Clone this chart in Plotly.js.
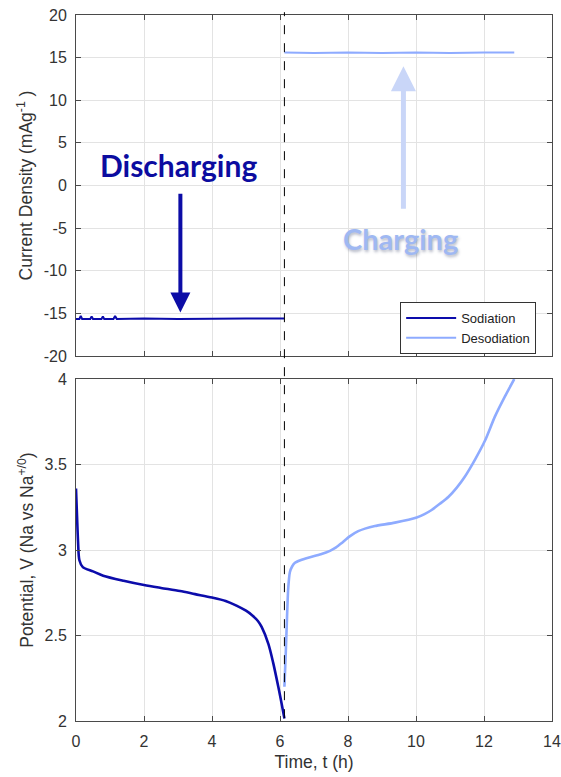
<!DOCTYPE html>
<html>
<head>
<meta charset="utf-8">
<script src="https://cdn.plot.ly/plotly-3.0.1.min.js"></script>
<style>html,body{margin:0;padding:0;background:#fff;}#chart{width:561px;height:777px;}</style>
</head>
<body>
<div id="chart"></div>
<script>
// ---- Data ----
const seriesNames = ["Sodiation", "Desodiation"];

// Current density (mA g^-1) vs time (h)
const curSodT = [0, 0.1, 0.14, 0.18, 0.42, 0.46, 0.5, 0.75, 0.79, 0.83, 1.1, 1.15, 1.2, 2, 3, 4, 5, 6.13];
const curSodI = [-15.65, -15.65, -15.3, -15.65, -15.65, -15.35, -15.65, -15.65, -15.35, -15.65, -15.65, -15.3, -15.65, -15.6, -15.65, -15.6, -15.6, -15.6];
const curDesT = [6.13, 7, 8, 9, 10, 11, 12, 12.89];
const curDesI = [15.6, 15.55, 15.6, 15.55, 15.6, 15.55, 15.6, 15.6];

// Potential (V) vs time (h)
const potSodT = [0.0, 0.03, 0.06, 0.1, 0.2, 0.5, 0.8, 1.4, 2.0, 2.5, 3.06, 3.5, 4.0, 4.4, 4.72, 5.0, 5.17, 5.35, 5.46, 5.66, 5.8, 5.95, 6.05, 6.13];
const potSodV = [3.36, 3.2, 3.05, 2.94, 2.90, 2.875, 2.85, 2.82, 2.795, 2.778, 2.76, 2.742, 2.722, 2.702, 2.675, 2.645, 2.62, 2.585, 2.55, 2.45, 2.34, 2.20, 2.10, 2.015];
const potDesT = [6.13, 6.17, 6.2, 6.24, 6.29, 6.36, 6.44, 6.6, 6.83, 7.2, 7.47, 7.65, 7.81, 8.05, 8.3, 8.5, 8.79, 9.38, 10.02, 10.25, 10.46, 10.7, 10.95, 11.2, 11.44, 11.74, 12.03, 12.32, 12.62, 12.89];
const potDesV = [2.2, 2.4, 2.57, 2.77, 2.87, 2.905, 2.925, 2.94, 2.955, 2.975, 2.995, 3.015, 3.04, 3.08, 3.11, 3.125, 3.14, 3.16, 3.19, 3.21, 3.234, 3.27, 3.31, 3.365, 3.43, 3.53, 3.64, 3.78, 3.90, 4.0];

// Switch time (dashed line)
const switchTime = 6.13;

// Annotation labels
const labelDischarge = "Discharging";
const labelCharge = "Charging";

// Tick values and labels
const xTicks = [0, 2, 4, 6, 8, 10, 12, 14];
const xTickText = ["0", "2", "4", "6", "8", "10", "12", "14"];
const yTopTicks = [-20, -15, -10, -5, 0, 5, 10, 15, 20];
const yTopTickText = ["-20", "-15", "-10", "-5", "0", "5", "10", "15", "20"];
const yBotTicks = [2, 2.5, 3, 3.5, 4];
const yBotTickText = ["2", "2.5", "3", "3.5", "4"];

// ---- Style ----
const cSod = "#0c0cab";
const cDes = "#8eabff";
const ff = "Arial, 'Liberation Sans', sans-serif";
const axisFont = {family: ff, size: 16, color: "#333333"};
const titleFont = {family: ff, size: 17.5, color: "#333333"};

function axisBase(extra) {
  return Object.assign({
    showline: true, linecolor: "#4a4a4a", linewidth: 1, mirror: "ticks",
    ticks: "inside", ticklen: 5, tickcolor: "#4a4a4a", tickwidth: 1,
    showgrid: true, gridcolor: "#e3e3e3", gridwidth: 1,
    zeroline: false, tickfont: axisFont, fixedrange: true
  }, extra);
}

const traces = [
  {x: curSodT, y: curSodI, xaxis: "x", yaxis: "y", mode: "lines", name: seriesNames[0], legendgroup: "s",
   line: {color: cSod, width: 2}},
  {x: curDesT, y: curDesI, xaxis: "x", yaxis: "y", mode: "lines", name: seriesNames[1], legendgroup: "d",
   line: {color: cDes, width: 2}},
  {x: potSodT, y: potSodV, xaxis: "x2", yaxis: "y2", mode: "lines", name: seriesNames[0], legendgroup: "s", showlegend: false,
   line: {color: cSod, width: 2.6, shape: "spline", smoothing: 0.8}},
  {x: potDesT, y: potDesV, xaxis: "x2", yaxis: "y2", mode: "lines", name: seriesNames[1], legendgroup: "d", showlegend: false,
   line: {color: cDes, width: 2.6, shape: "spline", smoothing: 0.6}}
];

const layout = {
  width: 561, height: 777,
  margin: {l: 76, r: 9, t: 15, b: 56, pad: 0},
  paper_bgcolor: "#ffffff", plot_bgcolor: "#ffffff",
  showlegend: true,
  legend: {
    x: 0.681, y: 0.5935, xanchor: "left", yanchor: "top",
    bgcolor: "#ffffff", bordercolor: "#333333", borderwidth: 1,
    font: {family: ff, size: 13, color: "#222"},
    itemwidth: 50, tracegroupgap: 0
  },
  xaxis: axisBase({domain: [0, 1], anchor: "y", range: [0, 14], tickvals: xTicks, ticktext: xTickText, showticklabels: false}),
  yaxis: axisBase({domain: [0.517, 1], anchor: "x", range: [-20, 20], tickvals: yTopTicks, ticktext: yTopTickText,
    ticklabelstandoff: 5,
    title: {text: "Current Density (mAg<sup>-1</sup> )", font: titleFont, standoff: 6}}),
  xaxis2: axisBase({domain: [0, 1], anchor: "y2", range: [0, 14], tickvals: xTicks, ticktext: xTickText,
    ticklabelstandoff: 6,
    title: {text: "Time, t (h)", font: titleFont, standoff: 6}}),
  yaxis2: axisBase({domain: [0, 0.4844], anchor: "x2", range: [2, 4], tickvals: yBotTicks, ticktext: yBotTickText,
    ticklabelstandoff: 5,
    title: {text: "Potential, V (Na vs Na<sup>+/0</sup>)", font: titleFont, standoff: 6}}),
  shapes: [
    {type: "line", xref: "x", yref: "paper", x0: switchTime, x1: switchTime, y0: 0.004, y1: 1.004,
     line: {color: "#000000", width: 1, dash: "dash"}}
  ],
  annotations: [
    // Discharging arrow
    {xref: "x", yref: "y", axref: "x", ayref: "y", x: 3.07, y: -14.9, ax: 3.07, ay: -0.8,
     text: "", showarrow: true, arrowhead: 2, arrowsize: 1, arrowwidth: 4, arrowcolor: "#0c0ca6"},
    {xref: "x", yref: "y", x: 3.0, y: 2.4, text: "<b>" + labelDischarge + "</b>", showarrow: false,
     font: {family: "Lato, 'Open Sans', sans-serif", size: 30, color: "#0c0ca0"}},
    // Charging arrow
    {xref: "x", yref: "y", axref: "x", ayref: "y", x: 9.63, y: 14.0, ax: 9.63, ay: -2.9,
     text: "", showarrow: true, arrowhead: 2, arrowsize: 1, arrowwidth: 5, arrowcolor: "#c9d6f8"},
    {xref: "x", yref: "y", x: 9.53, y: -6.17, text: "<b>" + labelCharge + "</b>", showarrow: false,
     font: {family: "Lato, 'Open Sans', sans-serif", size: 29, color: "#9fb8f2",
            shadow: "1px 2px 3px rgba(90,100,130,0.45)"}}
  ]
};

Plotly.newPlot("chart", traces, layout, {staticPlot: true, displayModeBar: false});
</script>
</body>
</html>
